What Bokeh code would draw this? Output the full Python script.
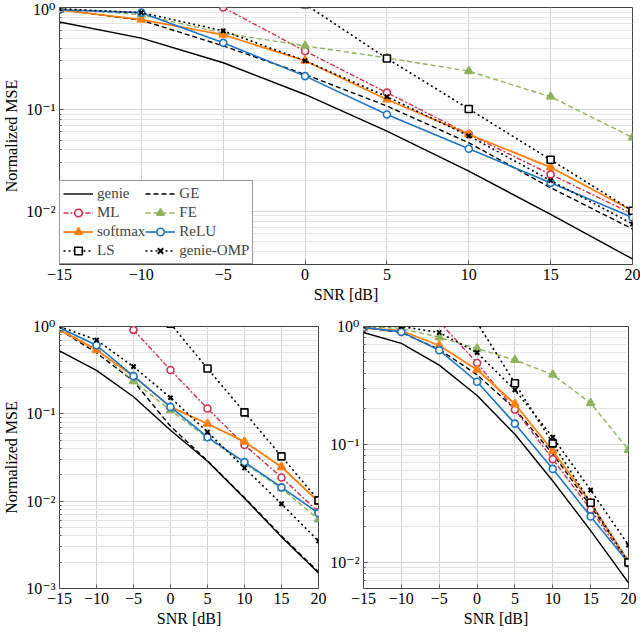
import math
from bokeh.plotting import figure
from bokeh.layouts import column, row
from bokeh.models import (FixedTicker, CustomJSTickFormatter, Range1d, Legend, LegendItem,
                          LinearAxis, LogAxis)
from bokeh.embed import file_html
from bokeh.resources import INLINE

nan = float("nan")
snr = [-15, -10, -5, 0, 5, 10, 15, 20]
x_ticks = [-15, -10, -5, 0, 5, 10, 15, 20]
series_names = ["genie", "GE", "ML", "FE", "softmax", "ReLU", "LS", "genie-OMP"]
# legend is filled column by column: first column, then second column
legend_order = ["genie", "ML", "softmax", "LS", "GE", "FE", "ReLU", "genie-OMP"]

# ---- top panel ----
top_genie = [0.72, 0.50, 0.287, 0.14, 0.061, 0.0248, 0.0093, 0.0034]
top_ge = [0.955, 0.75, 0.42, 0.22, 0.108, 0.047, 0.017, 0.0067]
top_ml = [nan, nan, 1.0, 0.373, 0.146, 0.057, 0.023, 0.0094]
top_fe = [0.97, 0.85, 0.56, 0.42, 0.32, 0.237, 0.133, 0.053]
top_softmax = [0.95, 0.76, 0.54, 0.30, 0.125, 0.057, 0.027, 0.0101]
top_relu = [0.95, 0.89, 0.45, 0.212, 0.089, 0.041, 0.019, 0.0087]
top_ls = [nan, nan, nan, 1.08, 0.316, 0.101, 0.032, 0.0101]
top_omp = [0.97, 0.89, 0.59, 0.30, 0.133, 0.055, 0.020, 0.0075]

# ---- bottom-left panel ----
bl_genie = [0.525, 0.315, 0.157, 0.065, 0.0286, 0.0108, 0.0039, 0.0015]
bl_ge = [0.92, 0.50, 0.237, 0.072, 0.029, 0.011, 0.0040, 0.00155]
bl_ml = [nan, nan, 0.915, 0.318, 0.115, 0.044, 0.0187, 0.0075]
bl_fe = [0.95, 0.55, 0.237, 0.11, 0.053, 0.027, 0.014, 0.0062]
bl_softmax = [0.915, 0.54, 0.27, 0.12, 0.077, 0.048, 0.0246, 0.0099]
bl_relu = [0.97, 0.61, 0.27, 0.12, 0.054, 0.028, 0.0144, 0.0073]
bl_ls = [nan, nan, nan, 1.08, 0.33, 0.104, 0.0326, 0.0102]
bl_omp = [1.0, 0.70, 0.347, 0.153, 0.062, 0.024, 0.0093, 0.0035]

# ---- bottom-right panel ----
br_genie = [0.89, 0.72, 0.47, 0.26, 0.122, 0.049, 0.0186, 0.0067]
br_ge = [0.98, 0.89, 0.64, 0.39, 0.20, 0.083, 0.030, 0.0103]
br_ml = [nan, nan, 1.1, 0.49, 0.197, 0.075, 0.028, 0.0098]
br_fe = [1.0, 0.96, 0.81, 0.65, 0.52, 0.39, 0.224, 0.09]
br_softmax = [0.97, 0.92, 0.69, 0.43, 0.22, 0.088, 0.032, 0.0101]
br_relu = [0.98, 0.90, 0.63, 0.34, 0.15, 0.062, 0.0245, 0.0099]
br_ls = [nan, nan, nan, 1.08, 0.33, 0.102, 0.032, 0.0100]
br_omp = [1.0, 1.0, 0.89, 0.60, 0.29, 0.115, 0.041, 0.014]

FONT = "'Liberation Serif'"
AX_FONT = "'Liberation Serif', 'DejaVu Serif', serif"
RED = "#d1304c"
GREEN = "#8fb35e"
ORANGE = "#ff8010"
BLUE = "#1f74c6"

styles = {
    "genie": dict(color="black", dash="solid", width=1.4, marker=None),
    "GE": dict(color="black", dash="5 3", width=1.4, marker=None),
    "ML": dict(color=RED, dash="5 2 2 2", width=1.4, marker="circle", fill="white"),
    "FE": dict(color=GREEN, dash="5 3", width=1.4, marker="triangle", fill=GREEN),
    "softmax": dict(color=ORANGE, dash="solid", width=1.8, marker="triangle", fill=ORANGE),
    "ReLU": dict(color=BLUE, dash="solid", width=1.6, marker="circle", fill="white"),
    "LS": dict(color="black", dash="2 3", width=1.6, marker="square", fill="white"),
    "genie-OMP": dict(color="black", dash="2 3", width=1.6, marker="x", fill="black"),
}

sup_map = {"-": "\u207b", "0": "\u2070", "1": "\u00b9", "2": "\u00b2", "3": "\u00b3",
           "4": "\u2074", "5": "\u2075", "6": "\u2076", "7": "\u2077", "8": "\u2078", "9": "\u2079"}
js_map = "{" + ",".join('"%s":"%s"' % (k, v) for k, v in sup_map.items()) + "}"
y_fmt_code = ("const m = " + js_map + ";"
              "const e = Math.round(Math.log10(tick));"
              "return '10' + String(e).split('').map(c => m[c]).join('');")
x_fmt_code = "return tick < 0 ? '\u2212' + Math.abs(tick) : String(tick);"

axis_style = dict(
    axis_line_color=None,
    major_tick_out=0, major_tick_in=4, minor_tick_out=0, minor_tick_in=2,
    major_tick_line_color="#555555", minor_tick_line_color="#555555",
    major_label_text_font=AX_FONT, major_label_text_font_size="16px",
    major_label_text_color="black",
    axis_label_text_font=AX_FONT, axis_label_text_font_size="16px",
    axis_label_text_font_style="normal", axis_label_text_color="black",
    major_label_standoff=4, axis_label_standoff=3,
)


def make_panel(data, width, height, ylo, borders, ylabel=True, legend=False):
    bl, br, bt, bb = borders
    p = figure(width=width, height=height, y_axis_type="log",
               x_range=Range1d(-15, 20), y_range=Range1d(ylo, 1.0),
               output_backend="svg", toolbar_location=None,
               x_axis_location=None, y_axis_location=None,
               min_border_left=bl, min_border_right=br,
               min_border_top=bt, min_border_bottom=bb)
    dec = list(range(int(math.floor(math.log10(ylo))), 1))
    majors = [10.0 ** d for d in dec]
    minors = [k * 10.0 ** d for d in dec for k in range(2, 10) if k * 10.0 ** d <= 1.0]
    ytick = FixedTicker(ticks=majors, minor_ticks=minors)
    xtick = FixedTicker(ticks=x_ticks)
    xaxis = LinearAxis(ticker=xtick, formatter=CustomJSTickFormatter(code=x_fmt_code),
                       axis_label="SNR [dB]", **axis_style)
    yaxis = LogAxis(ticker=ytick, formatter=CustomJSTickFormatter(code=y_fmt_code),
                    axis_label="Normalized MSE" if ylabel else None, **axis_style)
    p.add_layout(xaxis, "below")
    p.add_layout(yaxis, "left")
    p.xgrid.ticker = xtick
    p.ygrid.ticker = ytick
    p.xgrid.grid_line_color = "#d4d4d4"
    p.ygrid.grid_line_color = "#d4d4d4"
    p.ygrid.minor_grid_line_color = "#e4e4e4"
    p.outline_line_color = "#444444"
    p.outline_line_width = 1
    p.background_fill_color = "white"
    p.border_fill_color = "white"

    rends = {}
    for name in series_names:
        ys = data[name]
        st = styles[name]
        r = [p.line(snr, ys, line_color=st["color"], line_dash=st["dash"],
                    line_width=st["width"])]
        if st["marker"] is not None:
            if st["marker"] == "x":
                r.append(p.scatter(snr, ys, marker="x", size=6, line_color="black",
                                   line_width=2))
            else:
                r.append(p.scatter(snr, ys, marker=st["marker"],
                                   size=7 if st["marker"] != "triangle" else 8,
                                   line_color=st["color"] if st["marker"] != "square" else "black",
                                   fill_color=st["fill"], line_width=1.6))
        rends[name] = r
    if legend:
        lg = Legend(items=[LegendItem(label=n, renderers=rends[n]) for n in legend_order])
        lg.location = "bottom_left"
        lg.ncols = 2
        lg.margin = 0
        lg.padding = 3
        lg.spacing = 0
        lg.label_height = 19
        lg.glyph_height = 19
        lg.glyph_width = 30
        lg.label_standoff = 4
        lg.label_text_font = FONT
        lg.label_text_font_size = "15px"
        lg.border_line_color = "#333333"
        lg.border_line_width = 1
        lg.background_fill_alpha = 1.0
        p.add_layout(lg)
    return p


top_data = dict(zip(series_names, [top_genie, top_ge, top_ml, top_fe, top_softmax,
                                   top_relu, top_ls, top_omp]))
bl_data = dict(zip(series_names, [bl_genie, bl_ge, bl_ml, bl_fe, bl_softmax,
                                  bl_relu, bl_ls, bl_omp]))
br_data = dict(zip(series_names, [br_genie, br_ge, br_ml, br_fe, br_softmax,
                                  br_relu, br_ls, br_omp]))

p_top = make_panel(top_data, 640, 305, 0.003, (54, 8, 7, 40), ylabel=True, legend=True)
p_bl = make_panel(bl_data, 326, 327, 0.001, (53, 8, 21, 44), ylabel=True)
p_br = make_panel(br_data, 313, 327, 0.006, (37, 11, 21, 44), ylabel=False)

layout = column(p_top, row(p_bl, p_br))
open("out.html", "w").write(file_html(layout, INLINE))
